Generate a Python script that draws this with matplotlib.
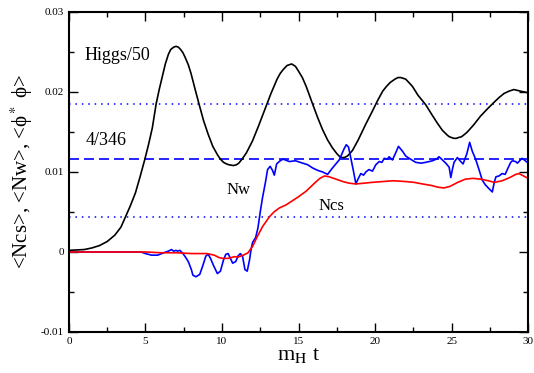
import matplotlib
matplotlib.use("Agg")
import matplotlib.pyplot as plt
import numpy as np
from matplotlib.ticker import MultipleLocator

plt.rcParams['font.family'] = ['Liberation Serif', 'DejaVu Serif']
plt.rcParams['mathtext.fontset'] = 'stix'

# Higgs/50 (black)
higgs_t = [0, 1.0, 1.5, 2.0, 2.5, 3.0, 3.2, 3.4, 3.7, 4.0, 4.35, 4.65, 4.95, 5.2,
           5.45, 5.7, 5.9, 6.1, 6.3, 6.5, 6.65, 6.85, 7.0, 7.15, 7.3, 7.45, 7.6,
           7.8, 7.98, 8.25, 8.5, 8.8, 9.1, 9.4, 9.72, 9.9, 10.1, 10.3, 10.45, 10.75,
           10.95, 11.1, 11.35, 11.6, 12.0, 12.4, 12.8, 13.2, 13.6, 13.8, 14.0, 14.25,
           14.55, 14.8, 15.0, 15.25, 15.5, 15.92, 16.25, 16.57, 16.9, 17.22, 17.5,
           17.7, 17.85, 18.0, 18.2, 18.35, 18.53, 18.7, 18.9, 19.4, 19.8, 20.16,
           20.5, 20.75, 21.0, 21.3, 21.5, 21.68, 21.85, 22.0, 22.2, 22.44, 22.8,
           23.31, 23.7, 24.07, 24.4, 24.72, 24.85, 25.0, 25.15, 25.3, 25.45, 25.65,
           25.85, 26.03, 26.45, 26.9, 27.35, 27.77, 28.1, 28.42, 28.75, 29.07,
           29.5, 30.0]
higgs_y = [0.0002, 0.0003, 0.0005, 0.0008, 0.0013, 0.0021, 0.0026, 0.0031, 0.0044,
           0.0057, 0.0074, 0.0094, 0.0115, 0.0134, 0.0155, 0.0185, 0.0203, 0.0219,
           0.0235, 0.0247, 0.0253, 0.0256, 0.0257, 0.0256, 0.0253, 0.0249, 0.0243,
           0.0234, 0.0223, 0.0203, 0.0185, 0.0164, 0.0147, 0.0132, 0.0121, 0.0116,
           0.0112, 0.0110, 0.0109, 0.0108, 0.0109, 0.0111, 0.0117, 0.0124, 0.0139,
           0.0158, 0.0178, 0.0198, 0.0216, 0.0223, 0.0228, 0.0233, 0.0235, 0.0232,
           0.0226, 0.0218, 0.0207, 0.0185, 0.0168, 0.0153, 0.0140, 0.0130, 0.0123,
           0.0119, 0.0118, 0.0118, 0.0120, 0.0123, 0.0127, 0.0133, 0.0140, 0.0160,
           0.0175, 0.0189, 0.0201, 0.0207, 0.0212, 0.0216, 0.0218, 0.0218, 0.0217,
           0.0216, 0.0212, 0.0207, 0.0196, 0.0184, 0.0172, 0.0161, 0.0152, 0.0146,
           0.0144, 0.0143, 0.0142, 0.0142, 0.0143, 0.0144, 0.0147, 0.0150, 0.0159,
           0.0170, 0.0179, 0.0187, 0.0193, 0.0198, 0.0201, 0.0203, 0.0201, 0.0199]

# Nw (blue)
nw_t = [0, 4.7, 5.0, 5.4, 5.8, 6.2, 6.5, 6.7, 6.85, 7.0, 7.1, 7.25, 7.45, 7.6, 7.8,
        8.0, 8.1, 8.3, 8.55, 8.75, 8.95, 9.1, 9.25, 9.45, 9.7, 9.9, 10.1, 10.25,
        10.4, 10.55, 10.7, 10.9, 11.05, 11.2, 11.35, 11.5, 11.65, 11.8, 11.9, 12.0,
        12.2, 12.35, 12.5, 12.65, 12.83, 12.98, 13.15, 13.3, 13.42, 13.57, 13.8,
        14.0, 14.4, 14.8, 15.27, 15.6, 15.92, 16.25, 16.57, 16.9, 17.22, 17.66,
        17.98, 18.12, 18.27, 18.42, 18.57, 18.75, 18.86, 19.07, 19.25, 19.4, 19.6,
        19.83, 20.05, 20.27, 20.45, 20.6, 20.8, 20.92, 21.14, 21.35, 21.53, 21.79,
        22.0, 22.23, 22.66, 23.0, 23.31, 23.75, 24.0, 24.18, 24.4, 24.62, 24.84,
        24.95, 25.05, 25.16, 25.38, 25.55, 25.75, 26.0, 26.18, 26.35, 26.57, 26.79,
        27.0, 27.2, 27.45, 27.66, 27.8, 27.9, 28.1, 28.3, 28.5, 28.64, 28.86, 28.97,
        29.18, 29.3, 29.6, 29.75, 30.0]
nw_y = [0, 0, -0.0002, -0.0004, -0.0004, -0.0001, 0.0001, 0.0003, 0.0001, 0.0002,
        0.0001, 0.0002, -0.0002, -0.0006, -0.0012, -0.0022, -0.0029, -0.0031,
        -0.0028, -0.0017, -0.0005, -0.0003, -0.0008, -0.0017, -0.0027, -0.0024,
        -0.0010, -0.0003, -0.0002, -0.0008, -0.0014, -0.0012, -0.0005, -0.0002,
        -0.0006, -0.0022, -0.0024, -0.0010, 0.0003, 0.0012, 0.0018, 0.0030, 0.0050,
        0.0068, 0.0086, 0.0103, 0.0107, 0.0102, 0.0096, 0.0110, 0.0114, 0.0116,
        0.0113, 0.0114, 0.0111, 0.0109, 0.0105, 0.0102, 0.0100, 0.0097, 0.0105,
        0.0115, 0.0129, 0.0134, 0.0131, 0.0117, 0.0103, 0.0085, 0.0090, 0.0098,
        0.0096, 0.0100, 0.0103, 0.0101, 0.0109, 0.0113, 0.0112, 0.0117, 0.0116,
        0.0119, 0.0115, 0.0124, 0.0132, 0.0126, 0.0120, 0.0117, 0.0112, 0.0111,
        0.0112, 0.0114, 0.0116, 0.0119, 0.0115, 0.0111, 0.0106, 0.0093, 0.0103,
        0.0112, 0.0118, 0.0114, 0.0110, 0.0123, 0.0137, 0.0126, 0.0116, 0.0103,
        0.0090, 0.0084, 0.0079, 0.0075, 0.0088, 0.0094, 0.0095, 0.0098, 0.0097,
        0.0103, 0.0112, 0.0114, 0.0113, 0.0111, 0.0117, 0.0115, 0.0111]

# Ncs (red)
ncs_t = [0, 5.0, 6.0, 7.0, 8.0, 8.5, 9.0, 9.5, 9.8, 10.05, 10.4, 10.8, 11.1, 11.4,
         11.7, 12.0, 12.3, 12.66, 13.1, 13.4, 13.75, 14.2, 14.6, 15.0, 15.5, 16.1,
         16.4, 16.7, 17.0, 17.45, 17.9, 18.3, 18.75, 19.3, 19.8, 20.5, 21.2, 22.0,
         22.55, 23.1, 23.7, 24.1, 24.5, 24.9, 25.4, 25.9, 26.4, 26.9, 27.4, 27.8,
         28.3, 28.8, 29.2, 29.4, 29.7, 30.0]
ncs_y = [0, 0, -0.0001, -0.0001, -0.0002, -0.0002, -0.0002, -0.0004, -0.0007,
         -0.0008, -0.0008, -0.0006, -0.0006, -0.0004, -0.0001, 0.0007, 0.0019,
         0.0032, 0.0044, 0.0050, 0.0055, 0.0059, 0.0064, 0.0069, 0.0076, 0.0087,
         0.0092, 0.0095, 0.0094, 0.0091, 0.0088, 0.0086, 0.0085, 0.0086, 0.0087,
         0.0088, 0.0089, 0.0088, 0.0087, 0.0085, 0.0083, 0.0081, 0.0080, 0.0082,
         0.0087, 0.0091, 0.0092, 0.0091, 0.0089, 0.0087, 0.0089, 0.0093, 0.0097,
         0.0098, 0.0095, 0.0092]

# reference levels
level_dotted_hi = 0.0185
level_dashed = 4 / 346
level_dotted_lo = 0.0044

fig = plt.figure(figsize=(5.34, 3.73), dpi=100)
ax = fig.add_axes([0.129, 0.110, 0.860, 0.858])

ax.axhline(level_dotted_hi, color='#0000ff', lw=1.1, ls=(0, (1, 3.2)))
ax.axhline(level_dashed, color='#0000ff', lw=1.2, ls=(0, (6, 3)))
ax.axhline(level_dotted_lo, color='#0000ff', lw=1.1, ls=(0, (1, 3.2)))
ax.plot(higgs_t, higgs_y, color='black', lw=1.2)
ax.plot(nw_t, nw_y, color='#0000ff', lw=1.2)
ax.plot(ncs_t, ncs_y, color='#ff0000', lw=1.2)

ax.text(1.0, 0.0245, 'Higgs/50', fontsize=13, va='center')
ax.text(1.1, 0.0139, '4/346', fontsize=13, va='center')
ax.text(10.3, 0.0078, 'Nw', fontsize=12, va='center')
ax.text(16.3, 0.0058, 'Ncs', fontsize=12, va='center')

ax.set_xlim(0, 30)
ax.set_ylim(-0.01, 0.03)
ax.xaxis.set_major_locator(MultipleLocator(5))
ax.xaxis.set_minor_locator(MultipleLocator(2.5))
ax.yaxis.set_major_locator(MultipleLocator(0.01))
ax.yaxis.set_minor_locator(MultipleLocator(0.005))
ax.set_yticks([-0.01, 0, 0.01, 0.02, 0.03])
ax.set_yticklabels(['-0.01', '0', '0.01', '0.02', '0.03'])
ax.tick_params(which='both', direction='in', top=True, right=True, labelsize=8, width=1)
ax.tick_params(which='major', length=6.5)
ax.tick_params(which='minor', length=3.5)
for s in ax.spines.values():
    s.set_linewidth(1.5)

ax.set_xlabel(r'm$_\mathrm{H}$ t', fontsize=16, labelpad=0)
ax.set_ylabel('<Ncs>, <Nw>, <ϕ$^*$ ϕ>', fontsize=15, labelpad=4)

fig.savefig('out.png', dpi=100)
